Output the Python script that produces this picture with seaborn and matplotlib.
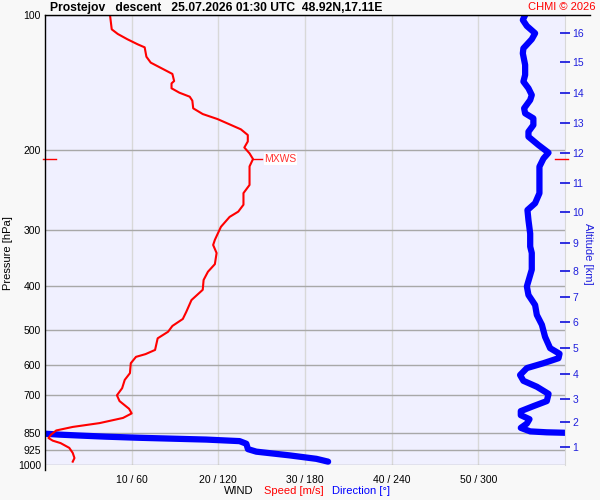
import numpy as np
import pandas as pd
import matplotlib
matplotlib.use("Agg")
import matplotlib.pyplot as plt
import seaborn as sns
from matplotlib.lines import Line2D
from matplotlib.ticker import NullLocator, FixedLocator
import matplotlib.transforms as mtransforms

plt.rcParams['font.family'] = ['Liberation Sans', 'DejaVu Sans']

# ---------------- data ----------------
speed_pressure = [100, 107.6, 110.2, 113.2, 116.2, 118, 123.8, 127.6, 131.8, 135.2, 140.2, 141.9,
                  145.5, 148.8, 151.9, 155, 161.2, 166, 170.3, 175, 179.5, 184.8, 191, 197, 203,
                  209, 217, 238.6, 248.8, 264, 273.5, 281, 295.6, 316, 324.4, 338, 357.8, 372,
                  388, 408, 430, 456.8, 473.7, 490.9, 505.7, 523, 555, 567, 575, 594, 625, 647,
                  675, 700, 721, 750, 768, 786, 807, 823, 838, 856, 871, 883, 894, 916, 940,
                  965, 983]
speed_ms = [7.5, 7.7, 8.4, 9.5, 10.7, 11.5, 11.7, 12.2, 13.6, 14.7, 14.9, 14.6,
            14.6, 15.5, 16.7, 17.0, 17.1, 18.2, 19.9, 21.3, 22.6, 23.4, 23.4, 23.0, 23.6,
            24.0, 23.6, 23.6, 22.9, 22.9, 22.3, 21.3, 20.3, 19.6, 19.4, 19.8, 19.6, 18.8,
            18.3, 18.2, 16.9, 16.3, 15.9, 14.7, 14.2, 13.0, 12.7, 11.6, 10.5, 9.9, 9.8, 9.2,
            8.9, 8.3, 8.6, 9.7, 10.0, 9.0, 6.3, 3.2, 1.3, 0.7, 0.4, 0.9, 1.8, 2.8, 3.2,
            3.4, 3.2]

dir_pressure_upper = [100, 102.6, 105.8, 109.8, 113.2, 118.6, 121.7, 129.1, 135.9, 140.6, 145.5,
                      150.6, 154.5, 161.2, 165.4, 169.7, 175.6, 181.7, 186.4, 194.5, 202.3,
                      208.4, 217.3, 248.9, 262, 271.3, 285.7, 306, 327, 338, 368, 401, 419, 441,
                      464, 488, 519, 550, 566, 579, 594, 609, 631, 650, 670, 695, 721, 740, 759,
                      775, 791, 809, 827, 842, 846, 848]
dir_deg_upper = [332.4, 330.8, 333.6, 339.3, 337.0, 331.2, 330.8, 332.4, 332.4, 331.2, 334.7,
                 337.0, 335.9, 331.7, 332.4, 338.1, 338.1, 334.7, 334.7, 341.6, 348.6,
                 345.1, 342.3, 342.3, 339.3, 334.0, 334.7, 335.9, 335.9, 337.0, 337.0, 333.6,
                 334.7, 339.3, 340.5, 344.0, 346.2, 349.7, 356.2, 355.5, 345.1, 333.6, 328.9,
                 331.2, 340.5, 348.6, 347.4, 338.1, 329.4, 329.4, 335.4, 333.6, 329.4, 335.9,
                 347.4, 360.0]
dir_pressure_lower = [852, 856, 860, 865, 870, 874, 878, 885, 897, 922, 934, 952, 969, 983]
dir_deg_lower = [0.0, 9.8, 23.7, 42.2, 65.3, 88.4, 111.6, 134.7, 139.4, 140.5, 146.3, 169.4,
                 187.9, 196.0]

pressure_ticks = [100, 200, 300, 400, 500, 600, 700, 850, 925, 1000]
speed_ticks = [10, 20, 30, 40, 50]
direction_ticks = [60, 120, 180, 240, 300]
alt_km = list(range(1, 17))
alt_pressure = [910.9, 802.7, 712.2, 627.9, 549.5, 481.1, 422.7, 370.1, 321.1, 274.1,
                236.6, 202.9, 173.5, 149.3, 127.2, 109.8]
mxws_speed = 24.0
mxws_pressure = 209

title_text = "Prostejov   descent   25.07.2026 01:30 UTC  48.92N,17.11E"

# ---------------- figure ----------------
W, H = 600, 500
fig = plt.figure(figsize=(6, 5), dpi=100, facecolor='#f8f8f8')
L, R, T, B = 45, 565, 15, 465
ax = fig.add_axes([L / W, 1 - B / H, (R - L) / W, (B - T) / H])
ax.set_facecolor('#f0f0ff')

ax.set_yscale('log')
ax.set_ylim(1000, 100)
ax.set_xlim(0, 360)
ax.yaxis.set_major_locator(FixedLocator(pressure_ticks))
ax.yaxis.set_minor_locator(NullLocator())
ax.set_yticklabels([str(p) for p in pressure_ticks])
ax.set_xticks(direction_ticks)
ax.tick_params(axis='x', bottom=False, top=False, labelbottom=False, labeltop=False, length=0)
ax.tick_params(axis='y', left=False, length=0, labelsize=7.5, pad=3)
ax.xaxis.grid(True, color='#d8d8d8', linewidth=1.0)
ax.yaxis.grid(True, color='#a8a8a8', linewidth=1.0)
ax.yaxis.grid(False, which='minor')
ax.set_axisbelow(True)
for s in ['top', 'bottom', 'left']:
    ax.spines[s].set_visible(False)
ax.spines['right'].set_color('#d8d8d8')

# direction (blue)
dfu = pd.DataFrame({'dir': dir_deg_upper, 'p': dir_pressure_upper})
dfl = pd.DataFrame({'dir': dir_deg_lower, 'p': dir_pressure_lower})
for d in (dfu, dfl):
    sns.lineplot(data=d, x='dir', y='p', sort=False, estimator=None, ax=ax,
                 color='#0000ff', linewidth=4.5, solid_capstyle='round', solid_joinstyle='round')
ax.set_xlabel('')
ax.set_ylabel('Pressure [hPa]', fontsize=8)
ax.yaxis.set_label_coords(-0.0615, 0.47)
ax.set_xlim(0, 360)
ax.set_ylim(1000, 100)

# speed (red)
ax_s = ax.twiny()
ax_s.patch.set_visible(False)
ax_s.set_xlim(0, 60)
dfs = pd.DataFrame({'spd': speed_ms, 'p': speed_pressure})
sns.lineplot(data=dfs, x='spd', y='p', sort=False, estimator=None, ax=ax_s,
             color='#ff0000', linewidth=1.5)
ax_s.set_xlim(0, 60)
ax_s.set_ylim(1000, 100)
ax_s.xaxis.tick_bottom()
ax_s.set_xticks(speed_ticks)
ax_s.set_xticklabels([f"{s} / {d}" for s, d in zip(speed_ticks, direction_ticks)])
ax_s.tick_params(axis='x', bottom=False, top=False, length=0, labelsize=7.5, pad=7)
ax_s.set_xlabel('')
ax_s.set_ylabel('')
for s in ax_s.spines.values():
    s.set_visible(False)

# MXWS markers
trans_s = mtransforms.blended_transform_factory(ax_s.transAxes, ax_s.transData)
ax_s.plot([-0.004, 0.021], [mxws_pressure, mxws_pressure], color='#ff0000', lw=1.0,
          transform=trans_s, clip_on=False)
ax_s.plot([0.981, 1.006], [mxws_pressure, mxws_pressure], color='#ff0000', lw=1.0,
          transform=trans_s, clip_on=False)
ax_s.plot([mxws_speed, mxws_speed + 1.0], [mxws_pressure, mxws_pressure], color='#ff0000', lw=1.0)
ax_s.text(mxws_speed + 1.3, mxws_pressure, 'MXWS', color='#ff3030', fontsize=7.5,
          va='center', ha='left',
          bbox=dict(facecolor='white', edgecolor='none', pad=0.5))

# altitude axis
ax_a = ax.twinx()
ax_a.set_yscale('log')
ax_a.set_ylim(1000, 100)
ax_a.yaxis.set_major_locator(FixedLocator(alt_pressure))
ax_a.yaxis.set_minor_locator(NullLocator())
ax_a.set_yticklabels([str(k) for k in alt_km])
ax_a.tick_params(axis='y', right=True, direction='inout', length=7, width=1.3,
                 colors='#2020dd', labelsize=7.5, pad=2)
ax_a.set_ylabel('Altitude [km]', color='#2020dd', fontsize=8, rotation=270)
ax_a.yaxis.set_label_coords(1.054, 0.47)
for s in ax_a.spines.values():
    s.set_visible(False)

# frame lines
fig.add_artist(Line2D([L / W, 590 / W], [1 - T / H, 1 - T / H], color='black', lw=1.0))
fig.add_artist(Line2D([L / W, L / W], [1 - T / H, 1 - 470 / H], color='black', lw=1.0))

# texts
fig.text(50 / W, 1 - 7.5 / H, title_text, fontsize=8.7, fontweight='bold', va='center', ha='left')
fig.text(596 / W, 1 - 7.5 / H, 'CHMI © 2026', fontsize=8, color='#ff0000', va='center', ha='right')
fig.text(253 / W, 1 - 491 / H, 'WIND', fontsize=8, color='black', va='center', ha='right')
fig.text(264 / W, 1 - 491 / H, 'Speed [m/s]', fontsize=8, color='#ff0000', va='center', ha='left')
fig.text(332 / W, 1 - 491 / H, 'Direction [°]', fontsize=8, color='#0000ff', va='center', ha='left')

fig.savefig('out.png', dpi=100, facecolor=fig.get_facecolor())
